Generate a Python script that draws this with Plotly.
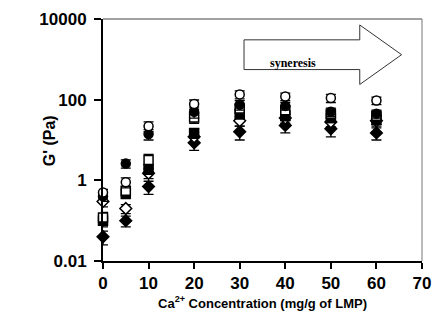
import plotly.graph_objects as go

# ---- data ----
ca_conc = [0, 5, 10, 20, 30, 40, 50, 60]

open_circle = [0.5, 0.9, 22, 78, 135, 120, 110, 95]
open_circle_err = [0.1, 0.25, 6, 20, 30, 25, 25, 20]

filled_circle = [0.4, 2.6, 14, 50, 75, 70, 50, 45]
filled_circle_err = [0.1, 0.6, 4, 15, 20, 15, 12, 10]

open_square = [0.12, 0.55, 3.2, 36, 60, 55, 45, 40]
open_square_err = [0.04, 0.15, 1.2, 10, 15, 12, 10, 10]

filled_square = [0.1, 0.47, 1.9, 15, 45, 40, 35, 32]
filled_square_err = [0.03, 0.12, 0.5, 4, 12, 10, 8, 8]

open_diamond = [0.3, 0.2, 1.5, 12, 30, 35, 28, 30]
open_diamond_err = [0.08, 0.05, 0.4, 3, 8, 9, 7, 8]

filled_diamond = [0.04, 0.1, 0.7, 8.5, 16, 23, 19, 15]
filled_diamond_err = [0.015, 0.03, 0.25, 3, 6, 8, 7, 5]

x_tick_vals = [0, 10, 20, 30, 40, 50, 60, 70]
y_tick_vals = [0.01, 1, 100, 10000]
y_tick_text = ["0.01", "1", "100", "10000"]

fig = go.Figure()

series = [
    (filled_diamond, filled_diamond_err, "diamond", "black", "black"),
    (open_diamond, open_diamond_err, "diamond", "white", "black"),
    (filled_square, filled_square_err, "square", "black", "black"),
    (open_square, open_square_err, "square", "white", "black"),
    (filled_circle, filled_circle_err, "circle", "black", "black"),
    (open_circle, open_circle_err, "circle", "white", "black"),
]
for vals, errs, sym, fill, line in series:
    fig.add_trace(go.Scatter(
        x=ca_conc, y=vals, mode="markers", cliponaxis=False, showlegend=False,
        marker=dict(symbol=sym, size=9, color=fill,
                    line=dict(color=line, width=1.5)),
        error_y=dict(type="data", array=errs, visible=True, color="black",
                     thickness=1.3, width=5),
    ))

axis_font = dict(family="Liberation Sans, Arial", size=17, color="black")

fig.update_layout(
    width=441, height=327,
    margin=dict(l=103, r=10, t=17, b=66),
    paper_bgcolor="white", plot_bgcolor="white",
    xaxis=dict(
        range=[0, 70], tickvals=x_tick_vals,
        ticktext=[f"<b>{v}</b>" for v in x_tick_vals],
        ticks="outside", ticklen=6, tickwidth=2, tickcolor="black",
        showline=True, linecolor="black", linewidth=2, showgrid=False,
        zeroline=False, tickfont=axis_font,
        title=dict(text="<b>Ca<sup>2+</sup> Concentration (mg/g of LMP)</b>",
                   font=dict(family="Liberation Sans, Arial", size=13, color="black"),
                   standoff=6),
    ),
    xaxis2=dict(
        range=[0, 70], overlaying="x", anchor="y", side="bottom",
        tickvals=[5, 10, 15, 20, 25, 30, 35, 40, 45, 50, 55, 60, 65, 70],
        ticks="inside", ticklen=5, tickwidth=1.5, tickcolor="black",
        showticklabels=False, showline=False, showgrid=False, zeroline=False,
    ),
    yaxis=dict(
        type="log", range=[-2, 4], tickvals=y_tick_vals,
        ticktext=[f"<b>{t}</b>" for t in y_tick_text],
        ticks="outside", ticklen=7, tickwidth=2, tickcolor="black",
        showline=True, linecolor="black", linewidth=2, showgrid=False,
        zeroline=False, tickfont=axis_font, ticklabelstandoff=4,
    ),
    yaxis2=dict(
        type="log", range=[-2, 4], overlaying="y", anchor="x", side="left",
        tickvals=[0.01, 0.1, 1, 10, 100, 1000, 10000],
        ticks="inside", ticklen=7, tickwidth=1.5, tickcolor="black",
        showticklabels=False, showline=False, showgrid=False, zeroline=False,
        minor=dict(ticks="inside", ticklen=4, tickwidth=1, tickcolor="black",
                   tickvals=[m * 10.0 ** e for e in range(-2, 4) for m in range(2, 10)]),
    ),
)

# y-axis title as annotation
fig.add_annotation(text="<b>G' (Pa)</b>", xref="paper", yref="paper",
                   x=-0.198, y=0.496, textangle=-90, showarrow=False,
                   font=dict(family="Liberation Sans, Arial", size=16, color="black"))

# thin top/right frame
fig.add_shape(type="line", xref="paper", yref="paper", x0=0, x1=1, y0=1, y1=1,
              line=dict(color="#444", width=1))
fig.add_shape(type="line", xref="paper", yref="paper", x0=1, x1=1, y0=0, y1=1,
              line=dict(color="#777", width=1))

# syneresis arrow (pixel positions converted to paper)
def px(xp, yp):
    return (xp - 103) / 328.0, (261 - yp) / 244.0

pts = [(248, 38), (367, 38), (367, 23), (410, 53), (367, 83), (367, 68), (248, 68)]
path = ""
for i, (a, b) in enumerate(pts):
    u, v = px(a, b)
    path += ("M" if i == 0 else "L") + f"{u:.4f},{v:.4f} "
path += "Z"
fig.add_shape(type="path", xref="paper", yref="paper", path=path,
              line=dict(color="#333", width=1), fillcolor="white")
tx, ty = px(298, 52)
fig.add_annotation(text="<b>syneresis</b>", xref="paper", yref="paper", x=tx, y=ty,
                   showarrow=False,
                   font=dict(family="Liberation Serif, Times New Roman", size=12, color="black"))

fig.write_html("out.html")
